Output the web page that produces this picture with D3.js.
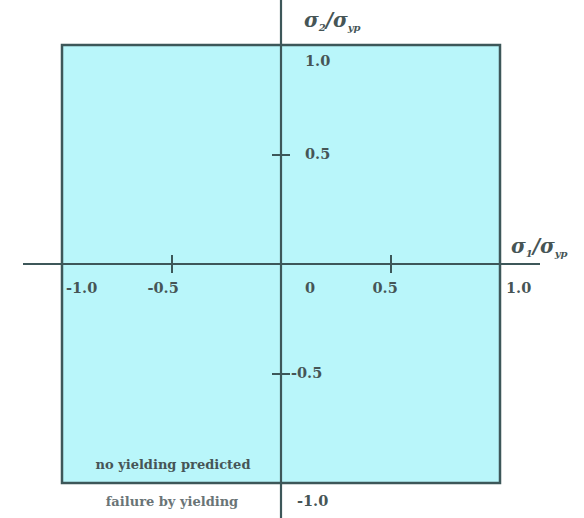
<!DOCTYPE html>
<html>
<head>
<meta charset="utf-8">
<script src="https://cdn.jsdelivr.net/npm/d3@7/dist/d3.min.js"></script>
<style>
  html, body { margin: 0; padding: 0; background: #ffffff; }
  svg { display: block; }
  text { font-family: "DejaVu Serif", "Liberation Serif", serif; fill: #465556; font-weight: bold; }
</style>
</head>
<body>
<svg id="chart" width="584" height="518"></svg>
<script>
// Normalised principal stresses (σ / σyp): the yield square spans -1..1 on both axes
const stressDomain = [-1, 1];
const xTickValues = [-0.5, 0.5];
const yTickValues = [0.5, -0.5];
const xLabelValues = [-1, -0.5, 0, 0.5, 1];
const xLabelTexts = ["-1.0", "-0.5", "0", "0.5", "1.0"];
const yLabelValues = [1, 0.5, -0.5, -1];
const yLabelTexts = ["1.0", "0.5", "-0.5", "-1.0"];
const regionTexts = ["no yielding predicted", "failure by yielding"];

const svg = d3.select("#chart");
const H = 518;
const ink = "#3d5759";

const x = d3.scaleLinear().domain(stressDomain).range([62, 500]);
const y = d3.scaleLinear().domain(stressDomain).range([483, 45]);

// Safe (no-yield) region
svg.append("rect")
  .attr("x", x(-1)).attr("y", y(1))
  .attr("width", x(1) - x(-1)).attr("height", y(-1) - y(1))
  .attr("fill", "#b9f6fa")
  .attr("stroke", ink).attr("stroke-width", 2.5);

// Coordinate axes through the origin
svg.append("line")
  .attr("x1", 23).attr("x2", 540)
  .attr("y1", y(0)).attr("y2", y(0))
  .attr("stroke", ink).attr("stroke-width", 2.2);
svg.append("line")
  .attr("x1", x(0)).attr("x2", x(0))
  .attr("y1", 0).attr("y2", H)
  .attr("stroke", ink).attr("stroke-width", 2.2);

// Cross ticks at ±0.5
const xAxis = svg.append("g")
  .attr("transform", `translate(0,${y(0) - 9})`)
  .call(d3.axisBottom(x).tickValues(xTickValues).tickSize(18).tickFormat(""));
const yAxis = svg.append("g")
  .attr("transform", `translate(${x(0) + 9},0)`)
  .call(d3.axisLeft(y).tickValues(yTickValues).tickSize(18).tickFormat(""));
[xAxis, yAxis].forEach(g => {
  g.select(".domain").remove();
  g.selectAll(".tick line").attr("stroke", ink).attr("stroke-width", 2);
});

// Horizontal-axis labels
const xLabelShift = v => (v === 0 ? 24 : v === -1 ? 4 : v === 1 ? 6 : v < 0 ? -24 : -18);
svg.append("g").selectAll("text")
  .data(xLabelValues)
  .join("text")
  .attr("x", v => x(v) + xLabelShift(v))
  .attr("y", y(0) + 29)
  .attr("font-size", 14.5)
  .text((v, i) => xLabelTexts[i]);

// Vertical-axis labels
const yLabelDy = v => (v === 1 ? 17 : v === -1 ? 19 : 0);
svg.append("g").selectAll("text")
  .data(yLabelValues)
  .join("text")
  .attr("x", v => x(0) + (v === -0.5 ? 10 : v === -1 ? 16 : 24))
  .attr("y", v => y(v) + yLabelDy(v))
  .attr("dominant-baseline", "middle")
  .attr("font-size", 14.5)
  .text((v, i) => yLabelTexts[i]);

// Axis titles σ1/σyp and σ2/σyp
function stressTitle(px, py, idx) {
  const t = svg.append("text").attr("x", px).attr("y", py)
    .attr("font-size", 20).attr("font-style", "italic");
  t.append("tspan").text("σ");
  t.append("tspan").attr("font-size", 10).attr("dy", 4).text(idx);
  t.append("tspan").attr("dy", -4).text("/σ");
  t.append("tspan").attr("font-size", 10).attr("dy", 4).text("yp");
}
stressTitle(x(0) + 23, 27, "2");
stressTitle(x(1) + 11, 253, "1");

// Region captions
svg.append("text")
  .attr("x", 173).attr("y", y(-1) - 18)
  .attr("text-anchor", "middle").attr("dominant-baseline", "middle")
  .attr("font-size", 13)
  .text(regionTexts[0]);
svg.append("text")
  .attr("x", 172).attr("y", y(-1) + 19)
  .attr("text-anchor", "middle").attr("dominant-baseline", "middle")
  .attr("font-size", 13)
  .style("fill", "#6a7476")
  .text(regionTexts[1]);
</script>
</body>
</html>
